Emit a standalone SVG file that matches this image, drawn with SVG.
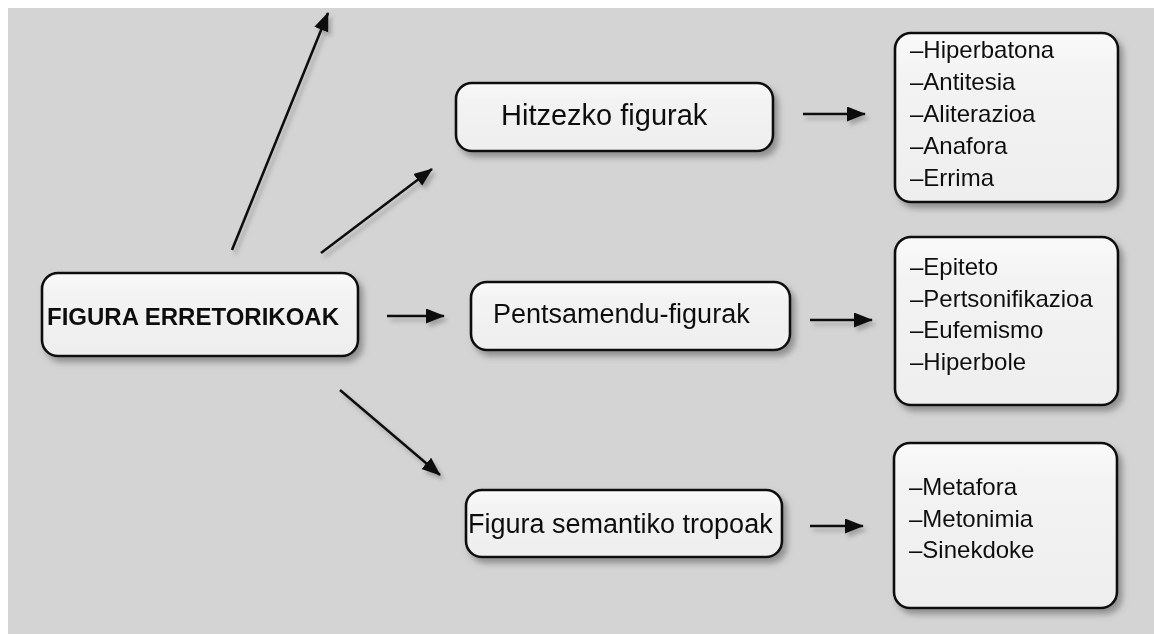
<svg xmlns="http://www.w3.org/2000/svg" width="1154" height="634" viewBox="0 0 1154 634">
<defs>
<style>
.box{fill:url(#g);stroke:#111;stroke-width:2.6}
.hl{fill:none;stroke:#fff;stroke-width:3;opacity:.8}
.t{font-family:"Liberation Sans",Arial,sans-serif;fill:#111}
.conn line{stroke:#111;stroke-width:2.6;marker-end:url(#ah)}
</style>
<linearGradient id="g" x1="0" y1="0" x2="0" y2="1">
<stop offset="0" stop-color="#fafafa"/>
<stop offset="0.25" stop-color="#f3f3f3"/>
<stop offset="1" stop-color="#eeeeee"/>
</linearGradient>
<filter id="sh" x="-10%" y="-10%" width="130%" height="140%">
<feDropShadow dx="4" dy="5" stdDeviation="3" flood-color="#555" flood-opacity="0.55"/>
</filter>
<filter id="ash" x="-20%" y="-20%" width="140%" height="140%">
<feDropShadow dx="3" dy="4" stdDeviation="2" flood-color="#666" flood-opacity="0.45"/>
</filter>
<marker id="ah" markerUnits="userSpaceOnUse" markerWidth="20" markerHeight="16" refX="18" refY="7.5" orient="auto">
<path d="M0,0 L19,7.5 L0,15 z" fill="#111"/>
</marker>
</defs>
<rect x="0" y="0" width="1154" height="634" fill="#ffffff"/>
<rect x="8" y="8" width="1146" height="626" fill="#d4d4d4"/>

<g id="connectors" class="conn" filter="url(#ash)">
<line x1="232" y1="250" x2="328" y2="13"/>
<line x1="321" y1="253" x2="432" y2="169"/>
<line x1="387" y1="316" x2="444" y2="316"/>
<line x1="340" y1="390" x2="440" y2="475"/>
<line x1="803" y1="114" x2="865" y2="114"/>
<line x1="810" y1="320" x2="872" y2="320"/>
<line x1="810" y1="526" x2="863" y2="526"/>
</g>

<g id="n-figura" filter="url(#sh)">
<rect class="box" x="42" y="273" width="316" height="83" rx="16"/>
<text class="t" x="47" y="325" font-size="24" font-weight="bold">FIGURA ERRETORIKOAK</text>
</g>

<g id="n-hitzezko" filter="url(#sh)">
<rect class="box" x="456" y="83" width="317" height="68" rx="16"/>
<text class="t" x="501" y="125" font-size="29">Hitzezko figurak</text>
</g>

<g id="n-pentsamendu" filter="url(#sh)">
<rect class="box" x="471" y="282" width="319" height="68" rx="16"/>
<text class="t" x="493" y="323" font-size="27">Pentsamendu-figurak</text>
</g>

<g id="n-semantiko" filter="url(#sh)">
<rect class="box" x="466" y="490" width="316" height="67" rx="16"/>
<text class="t" x="468" y="533" font-size="27">Figura semantiko tropoak</text>
</g>

<g id="n-list1" filter="url(#sh)">
<rect class="box" x="895" y="33" width="223" height="169" rx="16"/>
<text class="t" font-size="24">
<tspan x="910" y="58">–Hiperbatona</tspan>
<tspan x="910" y="90">–Antitesia</tspan>
<tspan x="910" y="122">–Aliterazioa</tspan>
<tspan x="910" y="154">–Anafora</tspan>
<tspan x="910" y="186">–Errima</tspan>
</text>
</g>

<g id="n-list2" filter="url(#sh)">
<rect class="box" x="895" y="237" width="223" height="168" rx="16"/>
<text class="t" font-size="24">
<tspan x="910" y="275">–Epiteto</tspan>
<tspan x="910" y="307">–Pertsonifikazioa</tspan>
<tspan x="910" y="338">–Eufemismo</tspan>
<tspan x="910" y="370">–Hiperbole</tspan>
</text>
</g>

<g id="n-list3" filter="url(#sh)">
<rect class="box" x="894" y="443" width="223" height="165" rx="16"/>
<text class="t" font-size="24">
<tspan x="909" y="495">–Metafora</tspan>
<tspan x="909" y="527">–Metonimia</tspan>
<tspan x="909" y="558">–Sinekdoke</tspan>
</text>
</g>
</svg>
